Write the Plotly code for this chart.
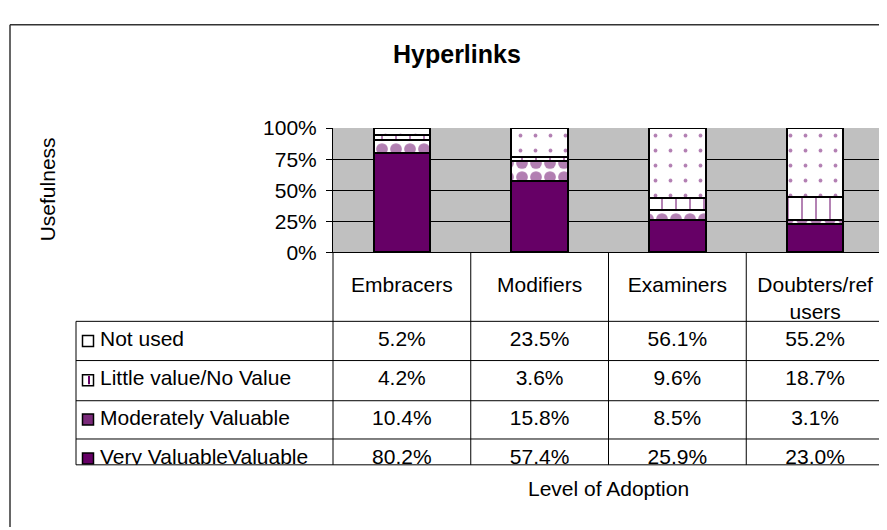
import plotly.graph_objects as go

categories = ["Embracers", "Modifiers", "Examiners", "Doubters/ref users"]
tick_labels = ["Embracers", "Modifiers", "Examiners", "Doubters/ref<br>users"]

# stacked from the bottom up
series_names = ["Very ValuableValuable", "Moderately Valuable", "Little value/No Value", "Not used"]
very_valuable = [80.2, 57.4, 25.9, 23.0]
moderately_valuable = [10.4, 15.8, 8.5, 3.1]
little_value = [4.2, 3.6, 9.6, 18.7]
not_used = [5.2, 23.5, 56.1, 55.2]

y_ticks = [0, 0.25, 0.5, 0.75, 1.0]

W, H = 887, 530
OFF = 8                                # page margin around the plot div
PL, PR, PT, PB = 333, 884, 121, 251   # plot box, page px
TL, TT, TB = 76, 323, 473             # data table, page px
ROW_H = 41
COL_W = (PR - PL) / len(categories)
purple = "#660066"
font = "Liberation Sans, Arial, sans-serif"
FS = 21


def fx(px):
    return (px - OFF) / W


def fy(py):
    return 1 - (py - OFF) / H


series = [very_valuable, moderately_valuable, little_value, not_used]
patterns = [
    None,
    dict(shape=".", size=14, solidity=0.55, fgcolor=purple, bgcolor="white"),
    dict(shape="|", size=14, solidity=0.14, fgcolor=purple, bgcolor="white"),
    dict(shape=".", size=15, solidity=0.05, fgcolor=purple, bgcolor="white"),
]

fig = go.Figure()
for name, vals, pat in zip(series_names, series, patterns):
    marker = dict(color=purple if pat is None else "white", line=dict(color="black", width=2))
    if pat is not None:
        marker["pattern"] = pat
    fig.add_trace(go.Bar(x=categories, y=[v / 100 for v in vals], name=name, marker=marker,
                         hoverinfo="skip"))

# data table below the chart: rows top -> bottom = Not used ... Very Valuable
rows = list(range(len(series)))
row_series = series[::-1]
row_names = series_names[::-1]
x2_left = -0.5 - (PL - TL) / COL_W

for r, vals in zip(rows, row_series):
    fig.add_trace(go.Scatter(x=list(range(len(categories))), y=[r] * len(vals),
                             text=["%.1f%%" % v for v in vals], mode="text",
                             textfont=dict(size=FS, color="black", family=font),
                             xaxis="x2", yaxis="y2", cliponaxis=True, hoverinfo="skip"))

fig.add_trace(go.Scatter(x=[x2_left + 24 / COL_W] * len(rows), y=rows, text=row_names,
                         mode="text", textposition="middle right",
                         textfont=dict(size=FS, color="black", family=font),
                         xaxis="x2", yaxis="y2", cliponaxis=True, hoverinfo="skip"))

key_fill = ["white", "white", "#7a2a7a", purple]
fig.add_trace(go.Scatter(x=[x2_left + 12 / COL_W] * len(rows), y=rows, mode="markers",
                         marker=dict(symbol="square", size=11, color=key_fill,
                                     line=dict(color="black", width=1.5)),
                         xaxis="x2", yaxis="y2", cliponaxis=True, hoverinfo="skip"))
fig.add_trace(go.Scatter(x=[x2_left + 13 / COL_W], y=[1], mode="markers",
                         marker=dict(symbol="line-ns", size=6, line=dict(color=purple, width=2)),
                         xaxis="x2", yaxis="y2", cliponaxis=True, hoverinfo="skip"))

shapes = []
line = dict(color="black", width=1)
shapes.append(dict(type="rect", xref="x domain", yref="y domain", x0=0, x1=1, y0=0, y1=1,
                   fillcolor="#C0C0C0", line=dict(width=0), layer="below"))
shapes.append(dict(type="line", xref="paper", yref="paper", x0=fx(PR), x1=fx(PR),
                   y0=fy(PT), y1=fy(PB), line=dict(color="#808080", width=1)))
for k in range(len(categories) + 1):
    xp = PL + k * COL_W
    shapes.append(dict(type="line", xref="paper", yref="paper", x0=fx(xp), x1=fx(xp),
                       y0=fy(PB), y1=fy(TB), line=line))
shapes.append(dict(type="line", xref="paper", yref="paper", x0=fx(TL), x1=fx(TL),
                   y0=fy(TT), y1=fy(TB), line=line))
for yp in [TT, TT + ROW_H, TT + 2 * ROW_H + 1, TT + 3 * ROW_H, TB]:
    shapes.append(dict(type="line", xref="paper", yref="paper", x0=fx(TL), x1=fx(PR),
                       y0=fy(yp), y1=fy(yp), line=line))
# outer chart frame
shapes.append(dict(type="line", xref="paper", yref="paper", x0=fx(10), x1=fx(10),
                   y0=fy(13), y1=0, line=dict(color="#333333", width=1.5)))
shapes.append(dict(type="line", xref="paper", yref="paper", x0=fx(10), x1=1,
                   y0=fy(13), y1=fy(13), line=dict(color="#333333", width=1.5)))

annotations = [
    dict(text="<b>Hyperlinks</b>", x=fx(457), y=fy(44), xref="paper", yref="paper",
         xanchor="center", yanchor="middle", showarrow=False,
         font=dict(size=25, color="black", family=font)),
    dict(text="Usefulness", x=fx(47), y=fy(185), xref="paper", yref="paper", textangle=-90,
         xanchor="center", yanchor="middle", showarrow=False,
         font=dict(size=FS, color="black", family=font)),
    dict(text="Level of Adoption", x=fx(608), y=fy(498), xref="paper", yref="paper",
         xanchor="center", yanchor="middle", showarrow=False,
         font=dict(size=FS, color="black", family=font)),
]

fig.update_layout(
    width=W, height=H, autosize=False,
    margin=dict(l=0, r=0, t=0, b=0),
    paper_bgcolor="white", plot_bgcolor="white",
    barmode="stack", bargap=0.59, showlegend=False,
    font=dict(family=font, size=FS, color="black"),
    xaxis=dict(domain=[fx(PL), fx(PR)], type="category", tickvals=categories, ticktext=tick_labels,
               ticks="", showline=True, linecolor="black", linewidth=1, showgrid=False,
               tickfont=dict(size=FS, color="black"), ticklabelstandoff=13, fixedrange=True),
    yaxis=dict(domain=[fy(PB), fy(PT)], range=[0, 1], tickvals=y_ticks, tickformat=".0%",
               ticks="outside", ticklen=6, tickcolor="black", showline=True, linecolor="black",
               linewidth=1, gridcolor="black", gridwidth=1, zeroline=False,
               tickfont=dict(size=FS, color="black"), ticklabelstandoff=5, fixedrange=True),
    xaxis2=dict(domain=[fx(TL), fx(PR)], range=[x2_left, len(categories) - 0.5], anchor="y2",
                visible=False, fixedrange=True),
    yaxis2=dict(domain=[fy(TB), fy(TT)], range=[(TB - TT) / ROW_H - 0.5, -0.5], anchor="x2",
                visible=False, fixedrange=True),
    shapes=shapes,
    annotations=annotations,
)

fig.write_html("out.html", config={"displayModeBar": False})
